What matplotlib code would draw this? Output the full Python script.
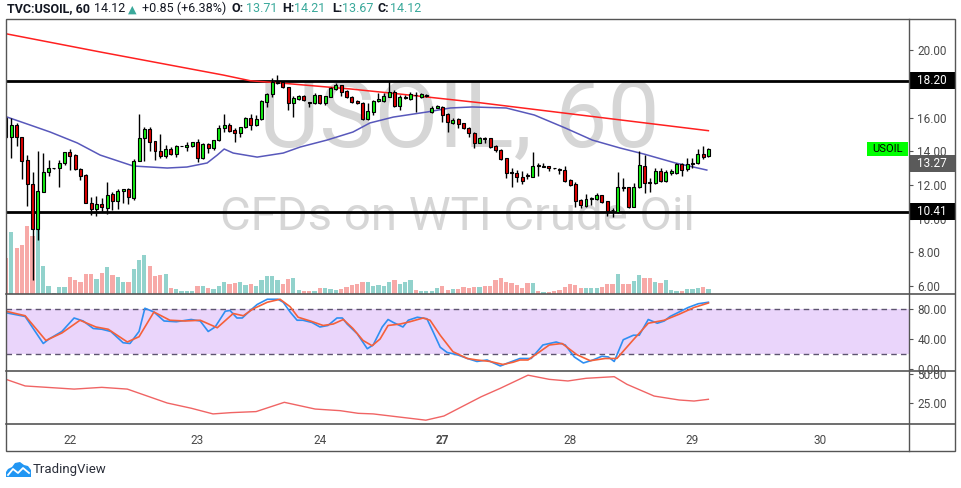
import matplotlib
matplotlib.use('Agg')
import matplotlib.pyplot as plt
from matplotlib.patches import Rectangle, Polygon
from matplotlib.lines import Line2D
from matplotlib.transforms import blended_transform_factory

plt.rcParams['font.family'] = ['Roboto', 'DejaVu Sans']

# hourly bars, index 0 = first full bar on the left (21st)
bars = list(range(-1, 132))
opens = [15.97, 14.84, 15.57, 14.84, 13.49, 12.07, 9.37, 11.57, 12.80, 12.99,
         12.99, 13.29, 13.95, 13.79, 12.96, 12.60, 10.92, 10.56, 10.88, 10.66,
         11.47, 11.02, 11.63, 11.75, 11.25, 13.45, 14.78, 15.33, 14.62, 14.03,
         13.75, 14.14, 13.83, 14.31, 14.24, 14.34, 14.54, 13.59, 14.44, 14.18,
         14.68, 15.37, 15.57, 15.27, 15.08, 15.43, 15.97, 15.57, 15.91, 16.96,
         17.41, 18.06, 18.14, 17.81, 16.86, 17.09, 17.29, 16.90, 16.86, 17.35,
         16.86, 17.25, 17.69, 17.95, 17.59, 17.25, 17.01, 16.90, 15.90, 16.36,
         17.01, 17.01, 17.25, 17.55, 16.70, 17.15, 17.09, 17.35, 17.25, 17.31,
         16.32, 16.60, 16.66, 16.22, 15.71, 15.90, 15.67, 15.41, 15.11, 14.52,
         14.78, 14.78, 14.32, 14.08, 13.59, 12.76, 12.70, 12.46, 12.56, 12.50,
         13.15, 13.06, 13.13, 13.01, 12.91, 12.90, 12.30, 12.07, 11.11, 10.78,
         11.15, 11.17, 11.41, 11.02, 10.52, 10.38, 11.87, 11.87, 10.72, 11.87,
         13.15, 12.16, 12.11, 12.86, 12.26, 12.70, 12.70, 13.23, 12.96, 13.23,
         13.29, 13.85, 13.71]
highs = [16.07, 15.97, 15.67, 14.84, 13.79, 12.76, 14.03, 13.89, 13.49, 13.00,
         13.49, 13.95, 14.14, 13.83, 13.00, 12.66, 11.31, 11.35, 11.21, 12.16,
         11.61, 11.77, 11.75, 11.81, 13.55, 16.22, 15.43, 15.43, 14.62, 15.02,
         14.38, 14.24, 14.38, 14.34, 14.54, 14.58, 14.74, 14.48, 14.52, 14.68,
         15.57, 16.22, 15.67, 15.37, 15.47, 16.03, 16.20, 16.16, 17.05, 17.45,
         18.34, 18.52, 18.20, 17.81, 17.29, 17.35, 17.35, 16.95, 17.45, 17.35,
         17.29, 17.81, 18.04, 17.95, 17.65, 17.29, 17.05, 16.95, 16.90, 17.05,
         17.45, 17.45, 18.20, 17.65, 17.35, 17.35, 17.55, 17.55, 17.45, 17.39,
         16.70, 16.76, 16.70, 16.26, 15.96, 15.96, 15.71, 15.47, 15.17, 14.84,
         14.84, 14.82, 14.38, 14.14, 13.59, 12.99, 12.90, 12.86, 12.70, 13.99,
         13.29, 13.33, 13.13, 13.02, 13.04, 13.15, 12.34, 12.20, 11.15, 11.47,
         11.31, 11.51, 11.41, 11.06, 10.66, 12.80, 12.40, 11.87, 12.11, 14.03,
         13.79, 12.40, 13.00, 13.00, 12.90, 12.94, 13.33, 13.29, 13.59, 13.59,
         14.14, 14.32, 14.21]
lows = [14.82, 13.59, 14.34, 12.34, 10.78, 6.38, 8.76, 11.57, 12.56, 12.97,
        11.87, 13.19, 12.90, 12.90, 12.30, 10.96, 10.22, 10.13, 10.42, 10.26,
        10.52, 10.56, 10.92, 10.88, 11.11, 13.43, 13.43, 14.00, 13.49, 13.63,
        13.59, 13.79, 13.69, 14.30, 14.03, 14.28, 13.39, 13.55, 13.93, 14.08,
        14.64, 15.13, 15.17, 14.58, 14.84, 15.37, 15.27, 15.53, 15.87, 16.62,
        17.21, 18.00, 17.75, 16.46, 16.02, 17.05, 17.01, 16.66, 16.82, 16.82,
        16.76, 17.21, 17.65, 17.31, 17.15, 16.86, 16.82, 15.86, 15.86, 16.16,
        16.95, 16.95, 17.21, 16.66, 16.46, 17.11, 17.05, 16.36, 17.15, 17.25,
        16.26, 16.56, 15.77, 15.17, 15.63, 15.37, 15.31, 14.87, 14.22, 14.48,
        14.48, 14.22, 13.99, 13.49, 12.44, 11.91, 12.20, 12.05, 12.34, 12.50,
        12.54, 13.06, 12.86, 12.98, 12.64, 12.20, 11.95, 10.72, 10.66, 10.72,
        10.82, 11.11, 10.92, 10.18, 10.12, 10.32, 11.65, 10.62, 10.72, 11.81,
        11.51, 11.57, 12.05, 12.20, 12.20, 12.60, 12.66, 12.54, 12.84, 13.04,
        13.23, 13.53, 13.67]
closes = [14.88, 15.57, 14.84, 13.45, 12.05, 9.37, 11.63, 12.80, 12.99, 12.99,
          13.29, 13.95, 13.75, 12.96, 12.56, 10.96, 10.56, 10.88, 10.68, 11.41,
          11.02, 11.63, 11.75, 11.31, 13.45, 14.78, 15.33, 14.58, 14.03, 13.75,
          14.12, 13.83, 14.32, 14.33, 14.38, 14.54, 13.59, 14.44, 14.18, 14.68,
          15.41, 15.57, 15.23, 15.08, 15.43, 15.97, 15.57, 15.93, 16.99, 17.41,
          18.10, 18.14, 17.81, 16.86, 17.19, 17.29, 17.05, 16.88, 17.35, 16.86,
          17.29, 17.75, 17.95, 17.55, 17.21, 16.95, 16.86, 15.90, 16.40, 16.99,
          17.09, 17.29, 17.55, 16.70, 17.25, 17.25, 17.39, 17.33, 17.39, 17.31,
          16.60, 16.70, 16.16, 15.77, 15.86, 15.63, 15.37, 15.07, 14.48, 14.78,
          14.76, 14.28, 14.08, 13.55, 12.74, 12.72, 12.50, 12.24, 12.54, 13.13,
          13.13, 13.15, 13.00, 13.00, 12.90, 12.26, 12.01, 11.06, 10.82, 11.15,
          11.25, 11.41, 10.98, 10.46, 10.50, 11.87, 11.85, 10.72, 11.87, 13.19,
          12.11, 12.14, 12.86, 12.26, 12.80, 12.84, 13.25, 12.90, 13.23, 13.33,
          13.83, 13.69, 14.12]
volume = [109, 187, 139, 147, 204, 174, 197, 85, 25, 4,
          22, 22, 52, 42, 37, 60, 60, 45, 64, 82,
          57, 52, 37, 37, 75, 102, 117, 85, 55, 57,
          61, 19, 15, 8, 9, 9, 25, 24, 19, 15,
          24, 37, 30, 34, 35, 27, 29, 24, 42, 54,
          54, 42, 30, 45, 49, 12, 9, 9, 9, 19,
          19, 14, 12, 14, 22, 27, 29, 37, 35, 25,
          27, 25, 35, 42, 29, 37, 42, 12, 9, 9,
          9, 17, 25, 12, 15, 15, 22, 19, 22, 22,
          25, 25, 42, 49, 37, 32, 27, 19, 32, 32,
          9, 7, 5, 9, 12, 21, 29, 27, 19, 19,
          17, 17, 22, 29, 29, 60, 30, 30, 40, 57,
          49, 49, 37, 34, 42, 12, 9, 9, 14, 15,
          19, 20, 15]

# moving averages on the price pane
ma_long_x = [-0.8, 16.7, 39.8, 44.9, 51.1, 63.7, 71.8, 88.1, 96.6, 131.0]
ma_long = [20.98, 19.91, 18.54, 18.20, 18.05, 17.71, 17.45, 16.89, 16.56, 15.23]
ma_short_x = [-0.8, 3.5, 7.3, 12.4, 16.7, 22.9, 29.3, 33.0, 36.8, 38.7,
              40.0, 41.7, 46.2, 51.1, 54.3, 59.3, 64.2, 67.4, 71.8, 78.1,
              82.5, 86.6, 93.0, 98.3, 104.1, 109.2, 114.4, 118.9, 124.8, 130.7]
ma_short = [16.04, 15.57, 15.15, 14.50, 13.78, 13.13, 13.01, 13.07, 13.31, 13.78,
            14.14, 13.90, 13.66, 13.90, 14.26, 14.67, 15.15, 15.69, 16.04, 16.34,
            16.58, 16.64, 16.58, 16.16, 15.39, 14.67, 14.20, 13.84, 13.31, 12.89]

# stochastic RSI
k_x = [-1.0, 2.6, 4.3, 6.0, 7.1, 9.5, 11.8, 13.5, 15.4, 17.0, 18.7, 21.0, 22.3,
       24.0, 25.1, 26.8, 28.7, 31.0, 33.8, 35.5, 37.0, 38.3, 40.2, 41.1, 42.4,
       43.4, 44.9, 46.2, 48.1, 50.1, 51.1, 52.4, 53.7, 54.8, 56.5, 58.0, 59.5,
       61.2, 62.2, 63.1, 65.0, 66.9, 68.0, 69.7, 70.8, 71.8, 73.6, 74.6, 76.3,
       78.1, 79.3, 80.6, 81.9, 83.8, 85.7, 87.5, 89.4, 91.9, 93.7, 95.6, 97.7,
       99.9, 102.4, 104.1, 105.8, 107.5, 109.3, 111.0, 112.2, 113.3, 115.0,
       116.9, 118.0, 119.7, 121.4, 122.7, 123.8, 125.5, 127.2, 129.1, 131.0]
k_val = [75, 70, 52, 34, 40, 50, 68, 64, 54, 53, 50, 35, 34,
         50, 81, 76, 64, 63, 66, 64, 50, 56, 77, 78, 68,
         68, 78, 86, 93, 93, 89, 76, 65, 65, 62, 56, 58,
         68, 68, 60, 47, 27, 32, 56, 66, 62, 56, 65, 69,
         67, 49, 29, 22, 19, 14, 10, 12, 4, 9, 14, 14,
         32, 36, 32, 16, 8, 12, 17, 16, 10, 39,
         45, 45, 66, 61, 64, 70, 76, 82, 87, 89]
d_x = [-1.0, 2.6, 6.5, 9.5, 12.9, 15.9, 18.2, 21.8, 24.0, 26.8, 29.8, 32.7,
       35.5, 38.7, 41.7, 43.6, 45.4, 48.1, 50.5, 52.4, 53.9, 56.2, 58.6, 60.5,
       62.4, 64.2, 66.1, 67.8, 69.3, 70.8, 73.1, 74.9, 77.4, 78.7, 80.6, 83.0,
       85.7, 87.5, 90.0, 92.4, 94.3, 95.6, 97.1, 101.1, 103.5, 106.3, 108.8,
       111.6, 113.8, 116.9, 119.7, 122.7, 125.5, 128.3, 131.0]
d_val = [77, 71, 38, 48, 65, 56, 53, 36, 43, 76, 65, 64,
         65, 55, 74, 71, 80, 89, 93, 83, 69, 64, 58, 60,
         66, 54, 38, 31, 40, 58, 60, 63, 68, 65, 45, 23,
         14, 12, 10, 6, 9, 12, 12, 32, 34, 19, 11,
         14, 14, 39, 61, 65, 73, 82, 88]

# lower oscillator
osc_x = [-1.0, 2.6, 11.8, 17.0, 21.8, 29.3, 33.8, 37.9, 41.3, 46.0, 51.3, 57.1,
         61.8, 65.2, 68.0, 73.3, 77.9, 81.3, 88.3, 91.9, 97.1, 101.1, 104.6,
         108.0, 113.3, 115.7, 120.8, 125.5, 128.3, 131.0]
osc_val = [45.4, 39.7, 37.0, 38.5, 37.0, 25.0, 20.5, 15.6, 16.7, 17.6, 25.6, 19.8,
           18.4, 16.1, 15.6, 12.7, 10.2, 13.8, 30.4, 37.7, 49.0, 45.4, 44.0,
           46.3, 47.7, 41.1, 31.0, 27.6, 26.7, 28.2]

day_pos = [11, 35, 58, 81, 105, 128, 152]
day_labels = ['22', '23', '24', '27', '28', '29', '30']

price_ticks = [6, 8, 10, 12, 14, 16, 20]
resistance = 18.20
support = 10.41
ma_tag = 13.27
last_close = 14.12

W, H = 962, 488
L, R, RR = 6, 909, 955
GRAY = '#4a4a4a'
LINE = '#555555'

fig = plt.figure(figsize=(W / 100, H / 100), dpi=100)


def px_axes(x0, y0, x1, y1):
    return fig.add_axes([x0 / W, 1 - y1 / H, (x1 - x0) / W, (y1 - y0) / H])


ax_vol = px_axes(L, 19, R, 294)
ax = px_axes(L, 19, R, 294)
ax_st = px_axes(L, 294, R, 371)
ax_ind = px_axes(L, 371, R, 424)

for a in (ax_vol, ax, ax_st, ax_ind):
    a.set_xlim(-1.0, 168.7)
    for s in a.spines.values():
        s.set_visible(False)
    a.tick_params(axis='x', bottom=False, labelbottom=False)
ax.patch.set_visible(False)
ax_vol.set_yticks([])

# watermark
ax_vol.text(459 / W, 1 - 147 / H, 'USOIL, 60', transform=fig.transFigure,
            ha='center', va='baseline', fontsize=67, color='#d6d6d6', zorder=1)
ax_vol.text(457 / W, 1 - 230 / H, 'CFDs on WTI Crude Oil', transform=fig.transFigure,
            ha='center', va='baseline', fontsize=34, color='#d6d6d6', zorder=1)

# volume
up = [c >= o for o, c in zip(opens, closes)]
ax_vol.bar(bars, volume, width=0.8, zorder=2,
           color=['#92d2cc' if u else '#f7a9a7' for u in up])
ax_vol.set_ylim(0, 825)

# price pane
ax.set_ylim(5.52, 21.87)
ax.axhline(resistance, color='black', lw=2, zorder=2)
ax.axhline(support, color='black', lw=2, zorder=2)
ax.plot(ma_long_x, ma_long, color='#ff2020', lw=1.1, zorder=2.5)
ax.plot(ma_short_x, ma_short, color='#5858bb', lw=1.1, zorder=2.5)
ax.vlines(bars, lows, highs, colors='black', lw=1, zorder=3)
body_low = [min(o, c) for o, c in zip(opens, closes)]
body_h = [max(abs(c - o), 0.03) for o, c in zip(opens, closes)]
ax.bar(bars, body_h, bottom=body_low, width=0.56, zorder=4,
       color=['#12ee12' if u else '#e00000' for u in up],
       edgecolor='black', linewidth=0.8)

ax.yaxis.tick_right()
ax.set_yticks(price_ticks)
ax.set_yticklabels([f'{v:.2f}' for v in price_ticks])

# stochastic RSI pane
ax_st.set_ylim(-2.7, 100)
ax_st.axhspan(20, 80, color='#ead5fb', lw=0, zorder=1)
for lvl in (20, 80):
    ax_st.axhline(lvl, color='#5d5470', lw=1, ls=(0, (4, 3)), zorder=2)
ax_st.plot(k_x, k_val, color='#2f8ff2', lw=1.2, zorder=3)
ax_st.plot(d_x, d_val, color='#f5603a', lw=1.2, zorder=4)
ax_st.yaxis.tick_right()
ax_st.set_yticks([0, 40, 80])
ax_st.set_yticklabels(['0.00', '40.00', '80.00'])

# oscillator pane
ax_ind.set_ylim(6.9, 52.6)
ax_ind.plot(osc_x, osc_val, color='#f06464', lw=1, zorder=3)
ax_ind.yaxis.tick_right()
ax_ind.set_yticks([25, 50])
ax_ind.set_yticklabels(['25.00', '50.00'])
ax_ind.set_xticks(day_pos)
ax_ind.set_xticklabels(day_labels)
ax_ind.tick_params(axis='x', bottom=True, labelbottom=True, length=0, pad=7,
                   labelsize=8.5, labelcolor=GRAY)
for t in ax_ind.get_xticklabels():
    if t.get_text() == '27':
        t.set_fontweight('bold')

for a in (ax, ax_st, ax_ind):
    a.tick_params(axis='y', length=3, width=0.8, color=LINE, pad=3,
                  labelsize=8.5, labelcolor=GRAY)


def price_tag(a, y, text, fc, tc, h):
    tr = blended_transform_factory(a.transAxes, a.transData)
    a.add_patch(Rectangle((1.0, y - h / 2), (RR - R) / (R - L), h, transform=tr,
                          fc=fc, ec='none', clip_on=False, zorder=10))
    a.text(1.0 + 8 / (R - L), y, text, transform=tr, color=tc, ha='left',
           va='center', fontsize=8.5, clip_on=False, zorder=11)


price_tag(ax, resistance, f'{resistance:.2f}', 'black', 'white', 1.01)
price_tag(ax, ma_tag, f'{ma_tag:.2f}', '#5a5a5a', 'white', 1.01)
price_tag(ax, support, f'{support:.2f}', 'black', 'white', 1.01)

tr = blended_transform_factory(ax.transAxes, ax.transData)
ax.add_patch(Rectangle(((867 - L) / (R - L), last_close - 0.42), 41 / (R - L), 0.84,
                       transform=tr, fc='#00ff00', ec='none', zorder=10))
ax.text((887.5 - L) / (R - L), last_close, 'USOIL', transform=tr, ha='center',
        va='center', fontsize=8, color='black', zorder=11)


# frame and pane separators
def fig_line(x0, y0, x1, y1, lw=1.0, color=LINE):
    fig.add_artist(Line2D([x0 / W, x1 / W], [1 - y0 / H, 1 - y1 / H],
                          color=color, lw=lw))


fig.add_artist(Rectangle((L / W, 1 - 451 / H), (RR - L) / W, (451 - 19) / H,
                         transform=fig.transFigure, fill=False, ec=LINE, lw=1))
for yy in (294, 371, 424):
    fig_line(L, yy, RR, yy, lw=1.2)
fig_line(R, 19, R, 451)

# header
TEAL = '#3aa99b'
DARK = '#131722'
header = [
    ('TVC:USOIL, 60', 7, DARK, 'bold'),
    ('14.12', 94, DARK, 'normal'),
    ('+0.85 (+6.38%)', 142, DARK, 'normal'),
    ('O:', 232, DARK, 'bold'), ('13.71', 246, TEAL, 'normal'),
    ('H:', 282, DARK, 'bold'), ('14.21', 294, TEAL, 'normal'),
    ('L:', 332, DARK, 'bold'), ('13.67', 342, TEAL, 'normal'),
    ('C:', 378, DARK, 'bold'), ('14.12', 390, TEAL, 'normal'),
]
for txt, xx, col, wt in header:
    fig.text(xx / W, 1 - 12.5 / H, txt, color=col, fontsize=9, fontweight=wt,
             ha='left', va='baseline')
fig.text(128 / W, 1 - 12.5 / H, '▲', color=TEAL, fontsize=8, family='DejaVu Sans',
         ha='left', va='baseline')

# TradingView mark: blue cloud with a white zigzag
cloud = [(6, 477), (6, 472), (8, 469), (12, 467), (15, 463), (20, 462),
         (24, 465), (28, 466), (31, 470), (31, 477)]
fig.add_artist(Polygon([(x / W, 1 - y / H) for x, y in cloud], closed=True,
                       transform=fig.transFigure, fc='#2196f3', ec='none'))
zig_x = [8, 13, 18, 23, 29]
zig_y = [475, 469, 473, 468, 473]
fig.add_artist(Line2D([x / W for x in zig_x], [1 - y / H for y in zig_y],
                      color='white', lw=1.3))
fig.text(33 / W, 1 - 470 / H, 'TradingView', color='#2a2e39', fontsize=9.5,
         ha='left', va='center')

fig.savefig('out.png', dpi=100, facecolor='white')
